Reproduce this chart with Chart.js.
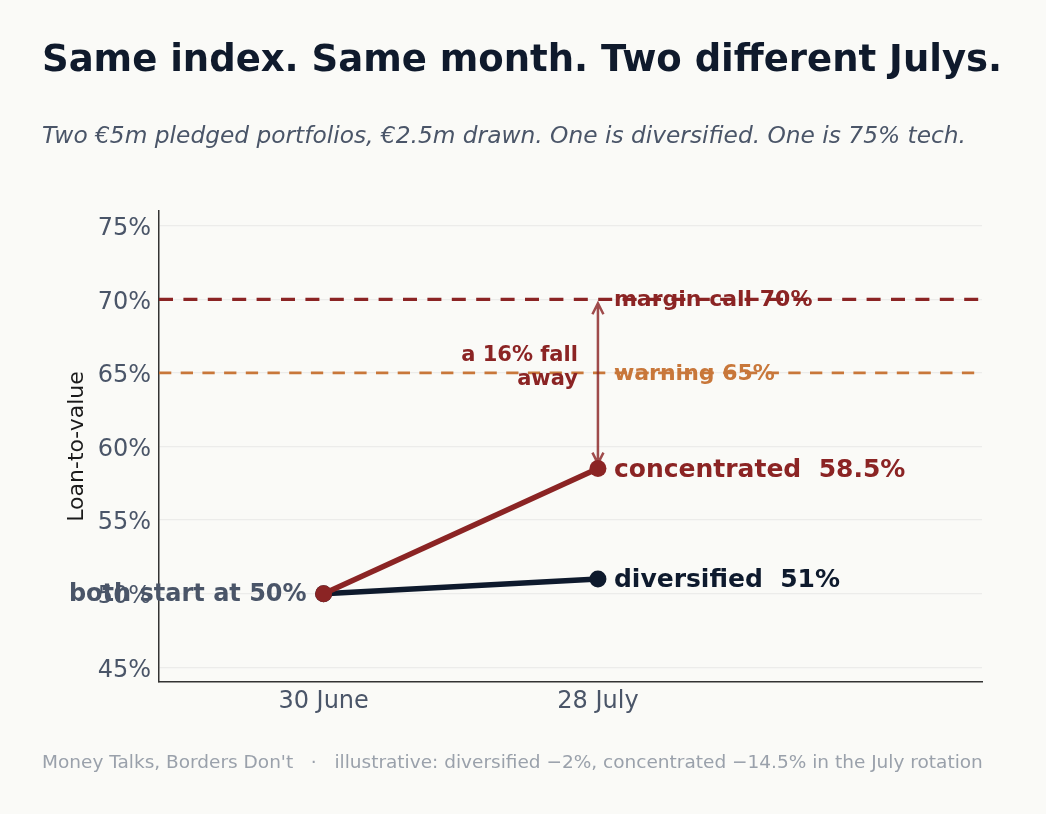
<!DOCTYPE html>
<html>
<head>
<meta charset="utf-8">
<script src="https://cdn.jsdelivr.net/npm/chart.js@4.4.1/dist/chart.umd.min.js"></script>
<style>
  html, body { margin: 0; padding: 0; background: #fafaf7; }
  body { width: 1046px; height: 814px; position: relative; overflow: hidden; font-family: "DejaVu Sans", sans-serif; }
  #title { position: absolute; left: 42px; top: 40px; font-size: 37px; font-weight: bold; color: #0f1a2c; white-space: nowrap; line-height: 1; }
  #subtitle { position: absolute; left: 42px; top: 123px; font-size: 23.3px; font-style: italic; color: #4a5568; white-space: nowrap; line-height: 1; }
  #footer { position: absolute; left: 42px; top: 753px; font-size: 18.5px; color: #9aa1ab; white-space: pre; line-height: 1; }
  #wrap { position: absolute; left: 0; top: 0; width: 1046px; height: 814px; }
</style>
</head>
<body>
<div id="wrap"><canvas id="c" width="1046" height="814"></canvas></div>
<div id="title">Same index. Same month. Two different Julys.</div>
<div id="subtitle">Two €5m pledged portfolios, €2.5m drawn. One is diversified. One is 75% tech.</div>
<div id="footer">Money Talks, Borders Don't   ·   illustrative: diversified −2%, concentrated −14.5% in the July rotation</div>
<script>
// ---- data ----
const dates = ["30 June", "28 July"];
const diversified = [50, 51];
const concentrated = [50, 58.5];
const yTicks = [45, 50, 55, 60, 65, 70, 75];
const thresholds = [70, 65];
const thresholdLabels = ["margin call 70%", "warning 65%"];
const seriesLabels = ["diversified  51%", "concentrated  58.5%"];
const startLabel = "both start at 50%";
const fallLabel = ["a 16% fall", "away"];

const RED = "#8b2424";
const NAVY = "#0e1a2d";
const ORANGE = "#c8773a";
const GREY = "#4a5568";
const FONT = "'DejaVu Sans', sans-serif";

const annot = {
  id: "annot",
  beforeDatasetsDraw(chart) {
    const { ctx, chartArea: a, scales: { x, y } } = chart;
    ctx.save();
    const styles = [
      { color: RED, width: 3.2, dash: [14, 10.4] },
      { color: ORANGE, width: 2.7, dash: [12.3, 9.4] }
    ];
    thresholds.forEach((t, i) => {
      const py = y.getPixelForValue(t);
      ctx.strokeStyle = styles[i].color;
      ctx.lineWidth = styles[i].width;
      ctx.setLineDash(styles[i].dash);
      ctx.beginPath();
      ctx.moveTo(a.left, py);
      ctx.lineTo(a.right, py);
      ctx.stroke();
    });
    ctx.restore();
  },
  afterDatasetsDraw(chart) {
    const { ctx, scales: { x, y } } = chart;
    ctx.save();
    // threshold labels
    ctx.textBaseline = "middle";
    ctx.textAlign = "left";
    ctx.font = "bold 22px " + FONT;
    const lx = x.getPixelForValue(1) + 16;
    ctx.fillStyle = RED;
    ctx.fillText(thresholdLabels[0], lx, y.getPixelForValue(thresholds[0]) + 1);
    ctx.fillStyle = ORANGE;
    ctx.fillText(thresholdLabels[1], lx, y.getPixelForValue(thresholds[1]) + 1);

    // arrow
    const ax = x.getPixelForValue(1);
    const y1 = y.getPixelForValue(thresholds[0]) + 4;
    const y2 = y.getPixelForValue(concentrated[1]) - 5;
    ctx.strokeStyle = "rgba(139,36,36,0.82)";
    ctx.lineWidth = 2.5;
    ctx.setLineDash([]);
    ctx.beginPath();
    ctx.moveTo(ax, y1); ctx.lineTo(ax, y2);
    ctx.moveTo(ax - 5.5, y1 + 11); ctx.lineTo(ax, y1); ctx.lineTo(ax + 5.5, y1 + 11);
    ctx.moveTo(ax - 5.5, y2 - 11); ctx.lineTo(ax, y2); ctx.lineTo(ax + 5.5, y2 - 11);
    ctx.stroke();

    // fall label
    ctx.fillStyle = RED;
    ctx.font = "bold 21px " + FONT;
    ctx.textAlign = "right";
    ctx.fillText(fallLabel[0], ax - 20, 356);
    ctx.fillText(fallLabel[1], ax - 20, 380);

    // series labels
    ctx.textAlign = "left";
    ctx.font = "bold 25px " + FONT;
    ctx.fillStyle = RED;
    ctx.fillText(seriesLabels[1], lx, y.getPixelForValue(concentrated[1]) + 2);
    ctx.fillStyle = NAVY;
    ctx.fillText(seriesLabels[0], lx, y.getPixelForValue(diversified[1]) + 2);

    // start label
    ctx.textAlign = "right";
    ctx.font = "bold 24px " + FONT;
    ctx.fillStyle = GREY;
    ctx.fillText(startLabel, x.getPixelForValue(0) - 17, y.getPixelForValue(diversified[0]) + 1);
    ctx.restore();
  }
};

new Chart(document.getElementById("c"), {
  type: "line",
  data: {
    datasets: [
      {
        label: "diversified",
        data: dates.map((d, i) => ({ x: i, y: diversified[i] })),
        borderColor: NAVY, backgroundColor: NAVY,
        borderWidth: 5.5, pointRadius: 8.5, pointHoverRadius: 8.5,
        pointBorderWidth: 0, tension: 0, order: 2
      },
      {
        label: "concentrated",
        data: dates.map((d, i) => ({ x: i, y: concentrated[i] })),
        borderColor: RED, backgroundColor: RED,
        borderWidth: 5.5, pointRadius: 8.5, pointHoverRadius: 8.5,
        pointBorderWidth: 0, tension: 0, order: 1
      }
    ]
  },
  options: {
    responsive: false,
    animation: false,
    devicePixelRatio: 1,
    layout: { padding: { left: 64, top: 211, right: 64, bottom: 0 } },
    plugins: { legend: { display: false }, tooltip: { enabled: false } },
    scales: {
      x: {
        type: "linear", min: -0.6, max: 2.4,
        afterBuildTicks(s) { s.ticks = dates.map((d, i) => ({ value: i })); },
        afterFit(s) { s.height = 132; },
        grid: { display: false, drawTicks: false },
        border: { display: true, color: "#333333", width: 1.5 },
        ticks: {
          padding: 5, color: GREY, font: { family: FONT, size: 24 },
          callback: (v) => dates[v] ?? ""
        }
      },
      y: {
        min: 44, max: 76,
        afterBuildTicks(s) { s.ticks = yTicks.map(v => ({ value: v })); },
        afterFit(s) { s.width = 95; },
        grid: { color: "#ececea", lineWidth: 1.2, drawTicks: false },
        border: { display: true, color: "#333333", width: 1.5 },
        ticks: {
          padding: 8, labelOffset: 3, color: GREY, font: { family: FONT, size: 24 },
          callback: (v) => v + "%"
        },
        title: {
          display: true, text: "Loan-to-value", color: "#1a1a1a",
          font: { family: FONT, size: 22 }, padding: 0
        }
      }
    }
  },
  plugins: [annot]
});
</script>
</body>
</html>
